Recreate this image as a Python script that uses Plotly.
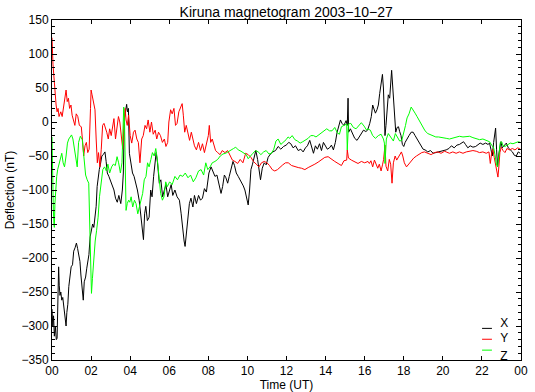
import plotly.graph_objects as go

# ---- data (hours UT, deflection nT) ----
x_time = [0.00,0.04,0.08,0.12,0.17,0.22,0.26,0.30,0.34,0.37,0.41,0.45,0.50,0.55,0.60,0.66,0.72,0.76,0.81,0.86,
          0.92,0.98,1.05,1.11,1.18,1.25,1.31,1.37,1.43,1.48,1.54,1.60,1.65,1.72,1.78,1.84,1.89,1.95,2.01,2.08,
          2.14,2.20,2.26,2.31,2.36,2.42,2.48,2.55,2.62,2.71,2.77,2.83,2.91,3.00,3.08,3.17,3.25,3.34,3.42,3.52,
          3.60,3.65,3.70,3.77,3.82,3.86,3.91,3.96,4.03,4.12,4.20,4.29,4.37,4.46,4.55,4.62,4.68,4.74,4.80,4.88,
          4.97,5.05,5.12,5.20,5.27,5.33,5.40,5.49,5.57,5.66,5.75,5.83,5.92,6.00,6.10,6.18,6.29,6.40,6.52,6.61,
          6.69,6.76,6.81,6.87,6.94,7.03,7.11,7.21,7.29,7.39,7.50,7.60,7.70,7.80,7.90,8.00,8.03,8.14,8.24,8.34,
          8.44,8.54,8.65,8.73,8.82,8.90,8.99,9.07,9.16,9.26,9.34,9.43,9.53,9.62,9.70,9.79,9.87,9.96,10.04,10.11,
          10.18,10.26,10.35,10.43,10.52,10.60,10.67,10.76,10.86,10.96,11.06,11.18,11.30,11.44,11.57,11.71,11.85,11.98,12.12,12.22,
          12.34,12.46,12.60,12.73,12.85,12.97,13.07,13.19,13.28,13.38,13.48,13.58,13.69,13.79,13.89,13.99,14.09,14.20,14.30,14.40,
          14.50,14.59,14.67,14.76,14.84,14.94,15.05,15.11,15.15,15.18,15.27,15.37,15.49,15.61,15.72,15.83,15.94,16.06,16.15,16.26,
          16.34,16.41,16.46,16.55,16.63,16.70,16.77,16.84,16.91,16.96,17.01,17.04,17.09,17.15,17.21,17.28,17.33,17.38,17.44,17.49,
          17.54,17.59,17.66,17.73,17.79,17.86,17.93,18.00,18.07,18.17,18.27,18.38,18.48,18.58,18.68,18.79,18.89,18.99,19.09,19.23,
          19.37,19.50,19.64,19.78,19.91,20.05,20.17,20.31,20.44,20.58,20.72,20.85,20.96,21.06,21.16,21.28,21.40,21.54,21.68,21.79,
          21.91,22.05,22.19,22.31,22.39,22.46,22.53,22.60,22.67,22.70,22.75,22.80,22.85,22.91,22.97,23.04,23.15,23.25,23.35,23.45,
          23.56,23.66,23.76,23.86,23.96]
x_vals = [-275,-300,-285,-315,-300,-320,-318,-260,-213,-240,-255,-250,-262,-258,-270,-285,-300,-280,-268,-242,
          -230,-213,-210,-190,-185,-178,-186,-195,-205,-225,-245,-262,-235,-228,-215,-205,-195,-169,-160,-150,
          -155,-140,-124,-95,-80,-70,-62,-50,-48,-44,-58,-75,-80,-88,-95,-100,-112,-118,-108,-120,
          -100,-75,5,22,26,15,20,-46,-58,-75,-80,-90,-100,-115,-140,-160,-173,-135,-124,-145,
          -140,-100,-110,-80,-60,-45,-60,-90,-85,-110,-100,-92,-110,-100,-92,-108,-100,-110,-115,-135,
          -160,-175,-183,-168,-145,-120,-112,-125,-108,-120,-108,-115,-112,-98,-103,-85,-75,-66,-72,-80,
          -78,-92,-105,-95,-78,-82,-90,-80,-68,-58,-64,-75,-80,-85,-88,-94,-100,-112,-122,-100,
          -70,-62,-50,-42,-55,-72,-85,-68,-60,-63,-52,-47,-44,-42,-36,-40,-36,-34,-30,-32,
          -38,-35,-42,-40,-44,-38,-35,-27,-36,-46,-35,-40,-32,-42,-30,-35,-40,-38,-34,-41,
          -30,-15,-5,3,-2,-5,2,-5,35,-15,-10,-17,-24,-27,-22,-17,-12,-14,-12,-2,
          8,25,20,13,18,25,42,55,70,50,20,-20,-5,25,40,35,60,76,50,25,
          5,-15,-8,-7,-14,-20,-33,-36,-30,-24,-20,-15,-15,-20,-25,-30,-36,-40,-41,-44,
          -42,-46,-45,-44,-42,-42,-41,-39,-35,-38,-34,-33,-31,-29,-33,-38,-35,-37,-36,-33,
          -31,-33,-31,-33,-31,-40,-50,-30,-15,-9,-40,-66,-50,-38,-29,-38,-34,-31,-38,-41,
          -44,-49,-50,-44,-46]

y_time = [0.00,0.02,0.05,0.09,0.12,0.17,0.21,0.26,0.31,0.36,0.41,0.45,0.52,0.60,0.66,0.72,0.78,0.84,0.90,0.97,
          1.03,1.10,1.17,1.24,1.32,1.40,1.50,1.57,1.62,1.69,1.76,1.83,1.90,1.97,2.00,2.05,2.12,2.20,2.26,2.32,
          2.38,2.45,2.52,2.59,2.66,2.72,2.80,2.88,2.95,3.03,3.10,3.17,3.25,3.33,3.40,3.47,3.55,3.62,3.68,3.74,
          3.79,3.85,3.92,3.97,4.00,4.08,4.17,4.25,4.34,4.42,4.50,4.59,4.67,4.76,4.84,4.92,5.01,5.09,5.18,5.28,
          5.36,5.45,5.55,5.65,5.75,5.83,5.92,5.98,6.07,6.15,6.24,6.32,6.40,6.49,6.57,6.66,6.72,6.79,6.87,6.96,
          7.04,7.13,7.21,7.29,7.39,7.50,7.60,7.70,7.80,7.90,8.00,8.05,8.12,8.20,8.29,8.37,8.48,8.60,8.71,8.85,
          8.99,9.11,9.23,9.36,9.50,9.63,9.77,9.91,10.04,10.18,10.31,10.45,10.59,10.72,10.86,11.00,11.13,11.27,11.40,11.54,
          11.68,11.81,11.95,12.09,12.26,12.43,12.60,12.77,12.94,13.11,13.28,13.45,13.62,13.79,13.96,14.13,14.30,14.47,14.64,14.81,
          14.94,15.08,15.11,15.17,15.32,15.49,15.66,15.83,16.00,16.17,16.24,16.32,16.41,16.50,16.58,16.67,16.75,16.84,16.92,16.97,
          17.04,17.09,17.18,17.26,17.33,17.40,17.47,17.56,17.64,17.73,17.81,17.88,17.95,18.03,18.14,18.24,18.38,18.51,18.65,18.79,
          18.92,19.06,19.23,19.40,19.57,19.74,19.91,20.09,20.17,20.34,20.51,20.68,20.85,21.03,21.20,21.37,21.54,21.71,21.88,22.05,
          22.22,22.36,22.43,22.50,22.56,22.63,22.70,22.77,22.82,22.87,22.92,22.99,23.08,23.18,23.28,23.42,23.56,23.69,23.83,23.97]
y_vals = [124,100,85,70,55,40,25,15,20,8,12,15,8,25,40,47,30,35,20,25,
          10,0,-5,12,8,-5,-7,-30,-50,-35,-30,-45,-40,20,47,40,30,18,-25,-60,
          -45,-66,-40,-5,-2,-7,-15,-25,-10,-20,-5,5,-25,-5,8,0,-20,-40,-10,20,
          3,-5,10,-10,-20,-31,-15,-12,-25,-30,-60,-25,-20,-5,-10,3,-15,0,-18,-12,
          -25,-15,-20,-30,-25,-36,-30,0,18,12,20,-5,-2,15,22,27,10,-15,-5,-20,
          -27,-15,-25,-35,-41,-30,-42,-32,-45,-30,-20,-5,-30,-25,-36,-42,-45,-48,-42,-45,
          -42,-48,-56,-58,-61,-55,-60,-46,-48,-52,-58,-62,-66,-60,-58,-60,-64,-70,-72,-70,
          -66,-63,-60,-60,-64,-66,-67,-68,-70,-67,-65,-62,-59,-55,-52,-51,-55,-58,-61,-64,
          -57,-56,-41,-53,-56,-59,-61,-58,-60,-58,-61,-57,-66,-56,-63,-68,-62,-72,-62,-55,
          -34,-65,-72,-55,-62,-90,-60,-50,-56,-51,-46,-44,-50,-60,-66,-62,-57,-53,-50,-47,
          -45,-44,-46,-48,-45,-44,-46,-43,-44,-46,-44,-46,-44,-46,-44,-43,-42,-43,-45,-44,
          -46,-44,-61,-45,-40,-52,-62,-75,-81,-65,-45,-37,-42,-45,-39,-41,-39,-41,-38,-40]

z_time = [0.00,0.02,0.04,0.07,0.10,0.12,0.15,0.19,0.24,0.29,0.36,0.43,0.50,0.57,0.64,0.72,0.79,0.86,0.93,1.00,
          1.07,1.14,1.21,1.29,1.36,1.45,1.55,1.64,1.72,1.80,1.88,1.93,1.98,2.02,2.07,2.14,2.21,2.28,2.36,2.43,
          2.52,2.60,2.69,2.78,2.86,2.95,3.05,3.14,3.24,3.33,3.41,3.50,3.58,3.64,3.67,3.71,3.74,3.79,3.85,3.92,
          3.98,4.05,4.13,4.22,4.30,4.39,4.47,4.55,4.64,4.72,4.81,4.89,4.97,5.06,5.14,5.23,5.31,5.39,5.48,5.56,
          5.65,5.73,5.82,5.90,6.02,6.15,6.29,6.42,6.55,6.69,6.82,6.96,7.09,7.23,7.36,7.50,7.63,7.76,7.87,7.97,
          8.09,8.20,8.34,8.48,8.61,8.75,8.89,9.02,9.16,9.29,9.40,9.53,9.67,9.80,9.94,10.04,10.14,10.28,10.42,10.55,
          10.69,10.83,10.96,11.10,11.23,11.35,11.46,11.57,11.71,11.85,11.98,12.08,12.17,12.29,12.43,12.56,12.70,12.83,12.97,13.11,
          13.24,13.38,13.51,13.65,13.79,13.92,14.06,14.20,14.33,14.47,14.60,14.71,14.81,14.94,15.08,15.11,15.17,15.29,15.42,15.56,
          15.69,15.83,15.97,16.10,16.15,16.29,16.41,16.55,16.70,16.84,16.96,17.01,17.04,17.11,17.21,17.35,17.47,17.57,17.69,17.79,
          17.90,18.00,18.09,18.17,18.27,18.38,18.48,18.58,18.68,18.79,18.89,18.99,19.09,19.23,19.37,19.50,19.64,19.78,19.91,20.09,
          20.17,20.34,20.51,20.68,20.85,21.03,21.20,21.37,21.54,21.71,21.88,22.05,22.22,22.39,22.50,22.60,22.67,22.74,22.80,22.87,
          22.94,23.01,23.08,23.18,23.32,23.45,23.59,23.73,23.86,23.97]
z_vals = [-22,-60,-110,-130,-150,-155,-120,-95,-80,-70,-62,-56,-46,-60,-66,-50,-31,-25,-22,-19,
          -25,-40,-55,-66,-30,-21,-26,-60,-78,-85,-90,-150,-220,-252,-230,-195,-175,-160,-140,-110,
          -85,-70,-66,-72,-62,-75,-66,-62,-64,-51,-60,-75,-60,0,22,0,-40,-130,-120,-115,
          -118,-110,-125,-115,-120,-135,-125,-115,-105,-85,-80,-60,-66,-55,-45,-50,-39,-55,-85,-105,
          -115,-110,-88,-95,-88,-92,-80,-85,-78,-80,-75,-82,-78,-88,-82,-72,-70,-78,-60,-70,
          -66,-60,-58,-55,-50,-47,-46,-44,-42,-39,-37,-41,-43,-46,-48,-54,-50,-46,-42,-44,
          -48,-44,-42,-47,-46,-40,-28,-25,-33,-30,-26,-22,-24,-20,-26,-28,-31,-29,-27,-24,
          -20,-20,-22,-19,-15,-12,-10,-13,-13,-8,-16,-18,-7,-5,-3,-41,-3,-2,-8,-10,
          -5,-1,-6,-12,-10,-12,-20,-24,-20,-18,-25,-31,-61,-25,-17,-22,-28,-17,-22,-28,
          -27,-17,-5,6,12,22,18,13,8,2,-3,-8,-13,-17,-19,-20,-22,-22,-23,-24,
          -24,-25,-24,-22,-21,-22,-21,-21,-23,-24,-26,-25,-27,-29,-34,-38,-48,-62,-66,-45,
          -30,-29,-35,-36,-33,-31,-32,-30,-29,-30]

tick_hours = [0, 2, 4, 6, 8, 10, 12, 14, 16, 18, 20, 22, 24]
tick_labels = ["00", "02", "04", "06", "08", "10", "12", "14", "16", "18", "20", "22", "00"]
series_names = ["X", "Y", "Z"]
series_colors = ["#000000", "#ff0000", "#00ff00"]

FONT = "Liberation Sans, Arial, Helvetica, sans-serif"
X_RANGE = [0, 24]
Y_RANGE = [-350, 150]

fig = go.Figure()
for name, t, v, c in zip(series_names, [x_time, y_time, z_time], [x_vals, y_vals, z_vals], series_colors):
    fig.add_trace(go.Scatter(x=t, y=v, mode="lines", name=name,
                             line=dict(color=c, width=1), showlegend=False, hoverinfo="skip"))

# custom legend (bottom right, inside plot; labels clipped by the axes like the original)
leg_line_y = [0.093, 0.061, 0.029]
leg_text_y = [0.106, 0.062, 0.008]
for c, ly in zip(series_colors, leg_line_y):
    fig.add_shape(type="line", xref="paper", yref="paper", x0=0.917, x1=0.938, y0=ly, y1=ly,
                  line=dict(color=c, width=1))
lab_x = [X_RANGE[0] + 0.956 * (X_RANGE[1] - X_RANGE[0])] * 3
lab_y = [Y_RANGE[0] + f * (Y_RANGE[1] - Y_RANGE[0]) for f in leg_text_y]
fig.add_trace(go.Scatter(x=lab_x, y=lab_y, mode="text", text=series_names, textposition="middle right",
                         textfont=dict(family=FONT, size=12, color="black"), cliponaxis=True,
                         showlegend=False, hoverinfo="skip"))

fig.update_layout(
    width=535, height=392,
    margin=dict(l=52, r=14, t=20, b=32, autoexpand=False),
    paper_bgcolor="white", plot_bgcolor="white",
    font=dict(family=FONT, size=12, color="black"),
    title=dict(text="Kiruna magnetogram 2003\u221210\u221227", x=0.535, xanchor="center",
               y=1 - 12 / 392, yref="container", yanchor="middle",
               font=dict(family=FONT, size=14, color="black")),
)
fig.update_xaxes(range=X_RANGE, tickvals=tick_hours, ticktext=tick_labels, automargin=False,
                 showgrid=False, zeroline=False, showline=True, linecolor="black", linewidth=1,
                 mirror="ticks", ticks="inside", ticklen=4, tickcolor="black", tickwidth=1,
                 title=dict(text="Time (UT)", standoff=0, font=dict(family=FONT, size=12)),
                 tickfont=dict(family=FONT, size=12))
fig.update_yaxes(range=Y_RANGE, tickvals=list(range(-350, 151, 50)), automargin=False,
                 showgrid=False, zeroline=False, showline=True, linecolor="black", linewidth=1,
                 mirror="ticks", ticks="inside", ticklen=5, tickcolor="black", tickwidth=1,
                 minor=dict(dtick=10, ticks="inside", ticklen=3, tickcolor="black", showgrid=False),
                 title=dict(text="Deflection (nT)", standoff=4, font=dict(family=FONT, size=12)),
                 tickfont=dict(family=FONT, size=12))

fig.write_html("out.html", config={"displayModeBar": False},
               post_script="document.body.style.margin='0px';document.body.style.overflow='hidden';")
